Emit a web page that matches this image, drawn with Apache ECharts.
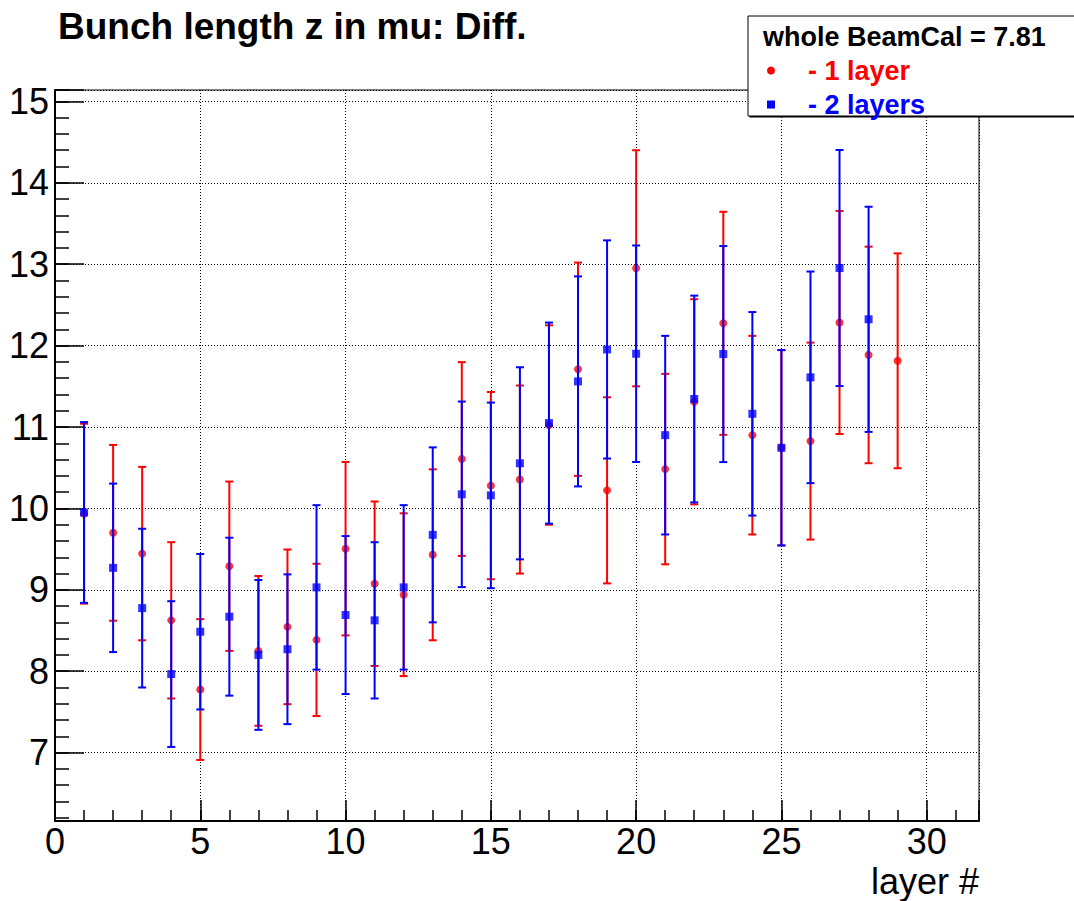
<!DOCTYPE html>
<html>
<head>
<meta charset="utf-8">
<title>Bunch length z in mu: Diff.</title>
<script src="https://cdn.jsdelivr.net/npm/echarts@6/dist/echarts.min.js"></script>
<style>
  html, body { margin: 0; padding: 0; background: #ffffff; }
  #chart { width: 1074px; height: 901px; }
</style>
</head>
<body>
<div id="chart"></div>
<script>
// Layer index along the x axis
const layers = [1, 2, 3, 4, 5, 6, 7, 8, 9, 10, 11, 12, 13, 14, 15, 16, 17, 18, 19, 20,
                21, 22, 23, 24, 25, 26, 27, 28, 29];

// Bunch length difference, one layer removed
const oneLayerValue = [9.935, 9.70, 9.445, 8.625, 7.775, 9.29, 8.25, 8.545, 8.385, 9.505,
                       9.075, 8.94, 9.43, 10.607, 10.28, 10.355, 11.025, 11.71, 10.222, 12.95,
                       10.483, 11.31, 12.274, 10.90, 10.745, 10.827, 12.284, 11.885, 11.813];
const oneLayerError = [1.105, 1.08, 1.065, 0.96, 0.865, 1.04, 0.92, 0.95, 0.935, 1.065,
                       1.01, 1.0, 1.05, 1.19, 1.15, 1.155, 1.225, 1.31, 1.143, 1.45,
                       1.17, 1.26, 1.37, 1.22, 1.2, 1.21, 1.37, 1.33, 1.32];

// Bunch length difference, two layers removed
const twoLayerValue = [9.95, 9.27, 8.775, 7.965, 8.485, 8.67, 8.20, 8.27, 9.03, 8.69,
                       8.625, 9.03, 9.675, 10.173, 10.16, 10.554, 11.048, 11.56, 11.953, 11.90,
                       10.90, 11.344, 11.896, 11.162, 10.745, 11.61, 12.953, 12.323];
const twoLayerError = [1.11, 1.035, 0.975, 0.895, 0.955, 0.97, 0.92, 0.92, 1.01, 0.97,
                       0.96, 1.01, 1.075, 1.14, 1.14, 1.18, 1.235, 1.29, 1.34, 1.33,
                       1.22, 1.27, 1.327, 1.25, 1.2, 1.30, 1.45, 1.383];

// Axis ranges and labelled ticks
const xRange = [0, 31.8];
const yRange = [6.16, 15.14];
const xTickLabels = [0, 5, 10, 15, 20, 25, 30];
const yTickLabels = [7, 8, 9, 10, 11, 12, 13, 14, 15];

const legendHeader = 'whole BeamCal = 7.81';
const oneLayerName = '- 1 layer';
const twoLayerName = '- 2 layers';

const RED = '#ff0000';
const BLUE = '#0000ff';
const FONT = '"Liberation Sans", Arial, Helvetica, sans-serif';

function errorRows(values, errors) {
  return values.map((v, i) => [layers[i], v - errors[i], v + errors[i]]);
}
function pointRows(values) {
  return values.map((v, i) => [layers[i], v]);
}

// Vertical error bar with short caps at both ends
function errorBar(color) {
  return function (params, api) {
    const x = api.value(0);
    const lo = api.coord([x, api.value(1)]);
    const hi = api.coord([x, api.value(2)]);
    const half = 4;
    const style = { stroke: color, lineWidth: 2, fill: null };
    return {
      type: 'group',
      children: [
        { type: 'line', shape: { x1: hi[0], y1: hi[1], x2: lo[0], y2: lo[1] }, style: style },
        { type: 'line', shape: { x1: hi[0] - half, y1: hi[1], x2: hi[0] + half, y2: hi[1] }, style: style },
        { type: 'line', shape: { x1: lo[0] - half, y1: lo[1], x2: lo[0] + half, y2: lo[1] }, style: style }
      ]
    };
  };
}

const labelStyle = { color: '#000', fontFamily: FONT, fontSize: 36 };
const dotted = { color: '#000', width: 1, type: [1, 2] };

const chart = echarts.init(document.getElementById('chart'), null, { renderer: 'svg' });

chart.setOption({
  animation: false,
  backgroundColor: '#ffffff',
  title: {
    text: 'Bunch length z in mu: Diff.',
    left: 53,
    top: 3,
    textStyle: { fontFamily: FONT, fontWeight: 'bold', fontSize: 37, color: '#000' }
  },
  legend: {
    orient: 'vertical',
    left: 762,
    top: 52,
    itemWidth: 8,
    itemHeight: 8,
    itemGap: 7,
    data: [
      { name: oneLayerName, icon: 'circle', itemStyle: { color: RED }, textStyle: { color: RED } },
      { name: twoLayerName, icon: 'rect', itemStyle: { color: BLUE }, textStyle: { color: BLUE } }
    ],
    textStyle: { fontFamily: FONT, fontWeight: 'bold', fontSize: 27, padding: [0, 0, 0, 28] }
  },
  graphic: [
    {
      type: 'rect', z: 0, silent: true,
      shape: { x: 749.5, y: 17.5, width: 340, height: 100 },
      style: { fill: '#000' }
    },
    {
      type: 'rect', z: 1, silent: true,
      shape: { x: 748, y: 16, width: 340, height: 100 },
      style: { fill: '#fff', stroke: '#000', lineWidth: 1 }
    },
    {
      type: 'text', z: 2, silent: true,
      x: 763, y: 37,
      style: {
        text: legendHeader, fill: '#000', font: 'bold 27px ' + FONT,
        verticalAlign: 'middle', align: 'left'
      }
    }
  ],
  grid: {
    left: 55, right: 95, top: 90, bottom: 80,
    show: true, borderColor: '#000', borderWidth: 1, backgroundColor: 'transparent'
  },
  xAxis: [
    {
      type: 'value', min: xRange[0], max: xRange[1], interval: 5,
      name: 'layer #', nameLocation: 'end', nameGap: 0,
      nameTextStyle: {
        fontFamily: FONT, fontSize: 36, color: '#000',
        align: 'right', verticalAlign: 'top', padding: [42, 0, 0, 0]
      },
      axisLine: { show: true, onZero: false, lineStyle: { color: '#000', width: 2 } },
      axisTick: { show: true, inside: true, length: 21, lineStyle: { color: '#000', width: 1.5 } },
      axisLabel: {
        ...labelStyle, margin: 2,
        formatter: (v) => (xTickLabels.includes(v) ? String(v) : '')
      },
      splitLine: { show: true, lineStyle: dotted }
    },
    {
      type: 'value', min: xRange[0], max: xRange[1], interval: 1, position: 'bottom',
      axisLine: { show: false, onZero: false },
      axisTick: { show: true, inside: true, length: 11, lineStyle: { color: '#000', width: 1.5 } },
      axisLabel: { show: false },
      splitLine: { show: false }
    }
  ],
  yAxis: [
    {
      type: 'value', min: yRange[0], max: yRange[1], minInterval: 1, maxInterval: 1, splitNumber: 9,
      axisLine: { show: true, onZero: false, lineStyle: { color: '#000', width: 2 } },
      axisTick: { show: true, inside: true, length: 29, lineStyle: { color: '#000', width: 1.5 } },
      axisLabel: {
        ...labelStyle, margin: 6,
        formatter: (v) => (yTickLabels.includes(Math.round(v * 1000) / 1000) ? String(Math.round(v)) : '')
      },
      splitLine: { show: true, lineStyle: dotted }
    },
    {
      type: 'value', min: yRange[0], max: yRange[1], minInterval: 0.2, maxInterval: 0.2, splitNumber: 45,
      position: 'left',
      axisLine: { show: false, onZero: false },
      axisTick: { show: true, inside: true, length: 14, lineStyle: { color: '#000', width: 1.5 } },
      axisLabel: { show: false },
      splitLine: { show: false }
    }
  ],
  series: [
    {
      name: oneLayerName, type: 'custom', xAxisIndex: 0, yAxisIndex: 0,
      renderItem: errorBar(RED), encode: { x: 0, y: [1, 2] },
      itemStyle: { color: RED },
      data: errorRows(oneLayerValue, oneLayerError), z: 2
    },
    {
      name: oneLayerName, type: 'scatter', xAxisIndex: 0, yAxisIndex: 0,
      symbol: 'circle', symbolSize: 8, itemStyle: { color: RED },
      data: pointRows(oneLayerValue), z: 3
    },
    {
      name: twoLayerName, type: 'custom', xAxisIndex: 0, yAxisIndex: 0,
      renderItem: errorBar(BLUE), encode: { x: 0, y: [1, 2] },
      itemStyle: { color: BLUE },
      data: errorRows(twoLayerValue, twoLayerError), z: 4
    },
    {
      name: twoLayerName, type: 'scatter', xAxisIndex: 0, yAxisIndex: 0,
      symbol: 'rect', symbolSize: 8, itemStyle: { color: BLUE },
      data: pointRows(twoLayerValue), z: 5
    }
  ]
});
</script>
</body>
</html>
